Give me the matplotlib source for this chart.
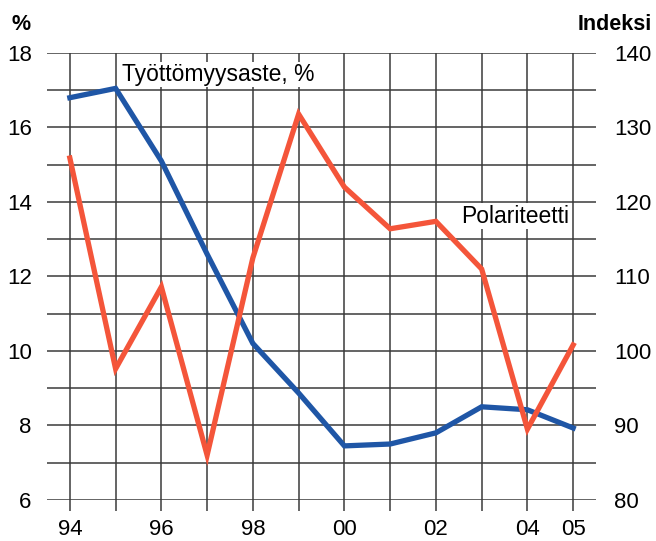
import matplotlib
matplotlib.use('agg')
import matplotlib.pyplot as plt

plt.rcParams['font.family'] = ['Liberation Sans', 'DejaVu Sans']

# Data
years = [1994, 1995, 1996, 1997, 1998, 1999, 2000, 2001, 2002, 2003, 2004, 2005]
unemployment = [16.8, 17.05, 15.1, 12.6, 10.2, 8.87, 7.45, 7.5, 7.8, 8.5, 8.42, 7.93]
polarity = [125.9, 97.6, 108.6, 86.0, 112.5, 131.8, 122.0, 116.4, 117.4, 111.0, 89.5, 100.8]
label_years = [1994, 1996, 1998, 2000, 2002, 2004, 2005]
left_ticks = [6, 8, 10, 12, 14, 16, 18]
right_ticks = [80, 90, 100, 110, 120, 130, 140]

blue = '#1f56a6'
orange = '#f4553a'
grid_c = '#3a3a3a'

fig = plt.figure(figsize=(6.56, 5.41), dpi=100)
ax = fig.add_axes([0.0716, 0.076, 0.837, 0.826])
ax.set_xlim(1993.5, 2005.5)
ax.set_ylim(6, 18)
for s in ax.spines.values():
    s.set_visible(False)

# grid: every year, every 1 %
for yv in range(6, 19):
    ax.axhline(yv, color=grid_c, lw=1.1, zorder=1)
for xv in years:
    ax.axvline(xv, color=grid_c, lw=1.1, zorder=1)

ax.set_xticks(years)
ax.set_xticklabels([str(y)[2:] if y in label_years else '' for y in years])
ax.set_yticks(left_ticks)
ax.tick_params(axis='x', length=8, width=1.1, color=grid_c, direction='out',
               labelsize=16, pad=6)
ax.tick_params(axis='y', length=0, labelsize=16, pad=11)

ax.plot(years, unemployment, color=blue, lw=3.8, zorder=3, solid_joinstyle='miter')

ax2 = ax.twinx()
ax2.set_ylim(80, 140)
ax2.set_yticks(right_ticks)
ax2.tick_params(length=0, labelsize=16, pad=13)
for s in ax2.spines.values():
    s.set_visible(False)
ax2.plot(years, polarity, color=orange, lw=3.8, zorder=3, solid_joinstyle='miter')

ax2.text(1995.15, 137.1, 'Työttömyysaste, %', fontsize=16.5, va='center', ha='left',
         bbox=dict(facecolor='white', edgecolor='none', pad=1), zorder=4)
ax2.text(2002.55, 118.1, 'Polariteetti', fontsize=16.5, va='center', ha='left',
         bbox=dict(facecolor='white', edgecolor='none', pad=1), zorder=4)

fig.text(0.018, 0.955, '%', fontsize=15.5, fontweight='bold', va='center', ha='left')
fig.text(0.993, 0.955, 'Indeksi', fontsize=15.5, fontweight='bold', va='center', ha='right')

fig.savefig('out.png', dpi=100)
